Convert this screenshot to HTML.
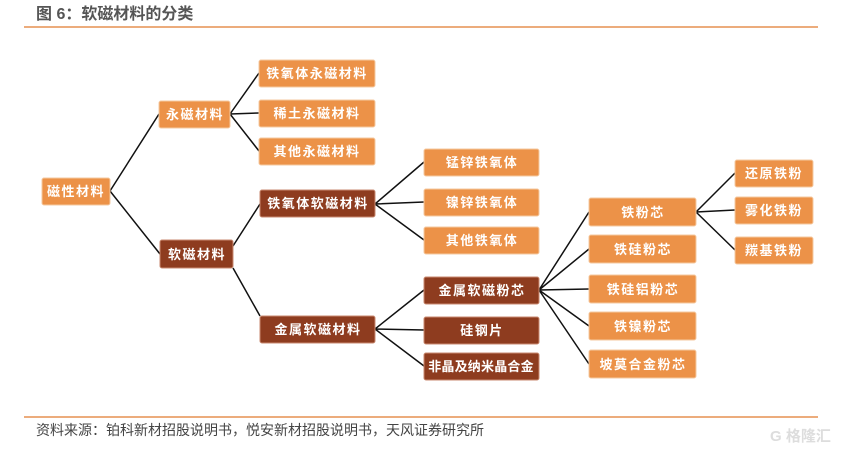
<!DOCTYPE html>
<html><head><meta charset="utf-8"><style>
body{margin:0;background:#fff;width:845px;height:452px;overflow:hidden}
svg text{font-family:"Liberation Sans","Noto Sans CJK SC",sans-serif}
.n{font-size:13px;font-weight:bold;fill:#fff;letter-spacing:1.5px}
</style></head><body>
<svg width="845" height="452" xmlns="http://www.w3.org/2000/svg">
<text x="36" y="19" font-size="16" font-weight="bold" fill="#555">图 6：软磁材料的分类</text>
<line x1="24" y1="27" x2="818" y2="27" stroke="#e07a2e" stroke-width="1.2"/>
<line x1="24" y1="417" x2="818" y2="417" stroke="#e07a2e" stroke-width="1.2"/>
<text x="36" y="435" font-size="14" fill="#444">资料来源：铂科新材招股说明书，悦安新材招股说明书，天风证券研究所</text>
<text x="770" y="441" font-size="15" font-weight="bold" fill="#ddd">G 格隆汇</text>
<g stroke="#111" stroke-width="1.5" fill="none">
<path d="M110 191L159 114M110 191L160 254"/>
<path d="M230 114L259 73M230 114L259 113M230 114L259 151"/>
<path d="M233 246L260 204M233 268L260 316"/>
<path d="M375 204L424 162M375 204L424 202M375 204L424 240"/>
<path d="M375 329L424 290M375 329L424 330M375 329L424 366"/>
<path d="M539 290L589 212M539 290L589 249M539 290L589 289M539 290L589 326M539 290L589 364"/>
<path d="M696 212L735 173M696 212L735 210M696 212L735 250"/>
</g>
<g fill="#ec9248" stroke="#f5c9a0" stroke-width="1">
<rect x="42" y="178" width="68" height="27" rx="2"/>
<rect x="159" y="101" width="71" height="27" rx="2"/>
<rect x="259" y="60" width="116" height="27" rx="2"/>
<rect x="259" y="100" width="116" height="27" rx="2"/>
<rect x="259" y="138" width="116" height="27" rx="2"/>
<rect x="424" y="149" width="115" height="27" rx="2"/>
<rect x="424" y="189" width="115" height="27" rx="2"/>
<rect x="424" y="227" width="115" height="27" rx="2"/>
<rect x="589" y="198" width="107" height="28" rx="2"/>
<rect x="589" y="235" width="107" height="28" rx="2"/>
<rect x="589" y="275" width="107" height="28" rx="2"/>
<rect x="589" y="312" width="107" height="28" rx="2"/>
<rect x="589" y="350" width="107" height="28" rx="2"/>
<rect x="735" y="160" width="78" height="27" rx="2"/>
<rect x="735" y="197" width="78" height="27" rx="2"/>
<rect x="735" y="237" width="78" height="27" rx="2"/>
</g>
<g fill="#8e3c1f" stroke="#c98a70" stroke-width="1">
<rect x="160" y="240" width="73" height="28" rx="2"/>
<rect x="260" y="190" width="115" height="27" rx="2"/>
<rect x="260" y="316" width="115" height="27" rx="2"/>
<rect x="424" y="277" width="115" height="27" rx="2"/>
<rect x="424" y="317" width="115" height="27" rx="2"/>
<rect x="424" y="353" width="115" height="27" rx="2"/>
</g>
<g class="n" text-anchor="middle">
<text x="76" y="196">磁性材料</text>
<text x="195" y="119">永磁材料</text>
<text x="317" y="78">铁氧体永磁材料</text>
<text x="317" y="118">稀土永磁材料</text>
<text x="317" y="156">其他永磁材料</text>
<text x="197" y="259">软磁材料</text>
<text x="318" y="208">铁氧体软磁材料</text>
<text x="318" y="334">金属软磁材料</text>
<text x="482" y="167">锰锌铁氧体</text>
<text x="482" y="207">镍锌铁氧体</text>
<text x="482" y="245">其他铁氧体</text>
<text x="482" y="295">金属软磁粉芯</text>
<text x="482" y="335">硅钢片</text>
<text x="481" y="371" style="letter-spacing:0.2px">非晶及纳米晶合金</text>
<text x="643" y="217">铁粉芯</text>
<text x="643" y="254">铁硅粉芯</text>
<text x="643" y="294">铁硅铝粉芯</text>
<text x="643" y="331">铁镍粉芯</text>
<text x="643" y="369">坡莫合金粉芯</text>
<text x="774" y="178">还原铁粉</text>
<text x="774" y="215">雾化铁粉</text>
<text x="774" y="255">羰基铁粉</text>
</g>
</svg>
</body></html>
